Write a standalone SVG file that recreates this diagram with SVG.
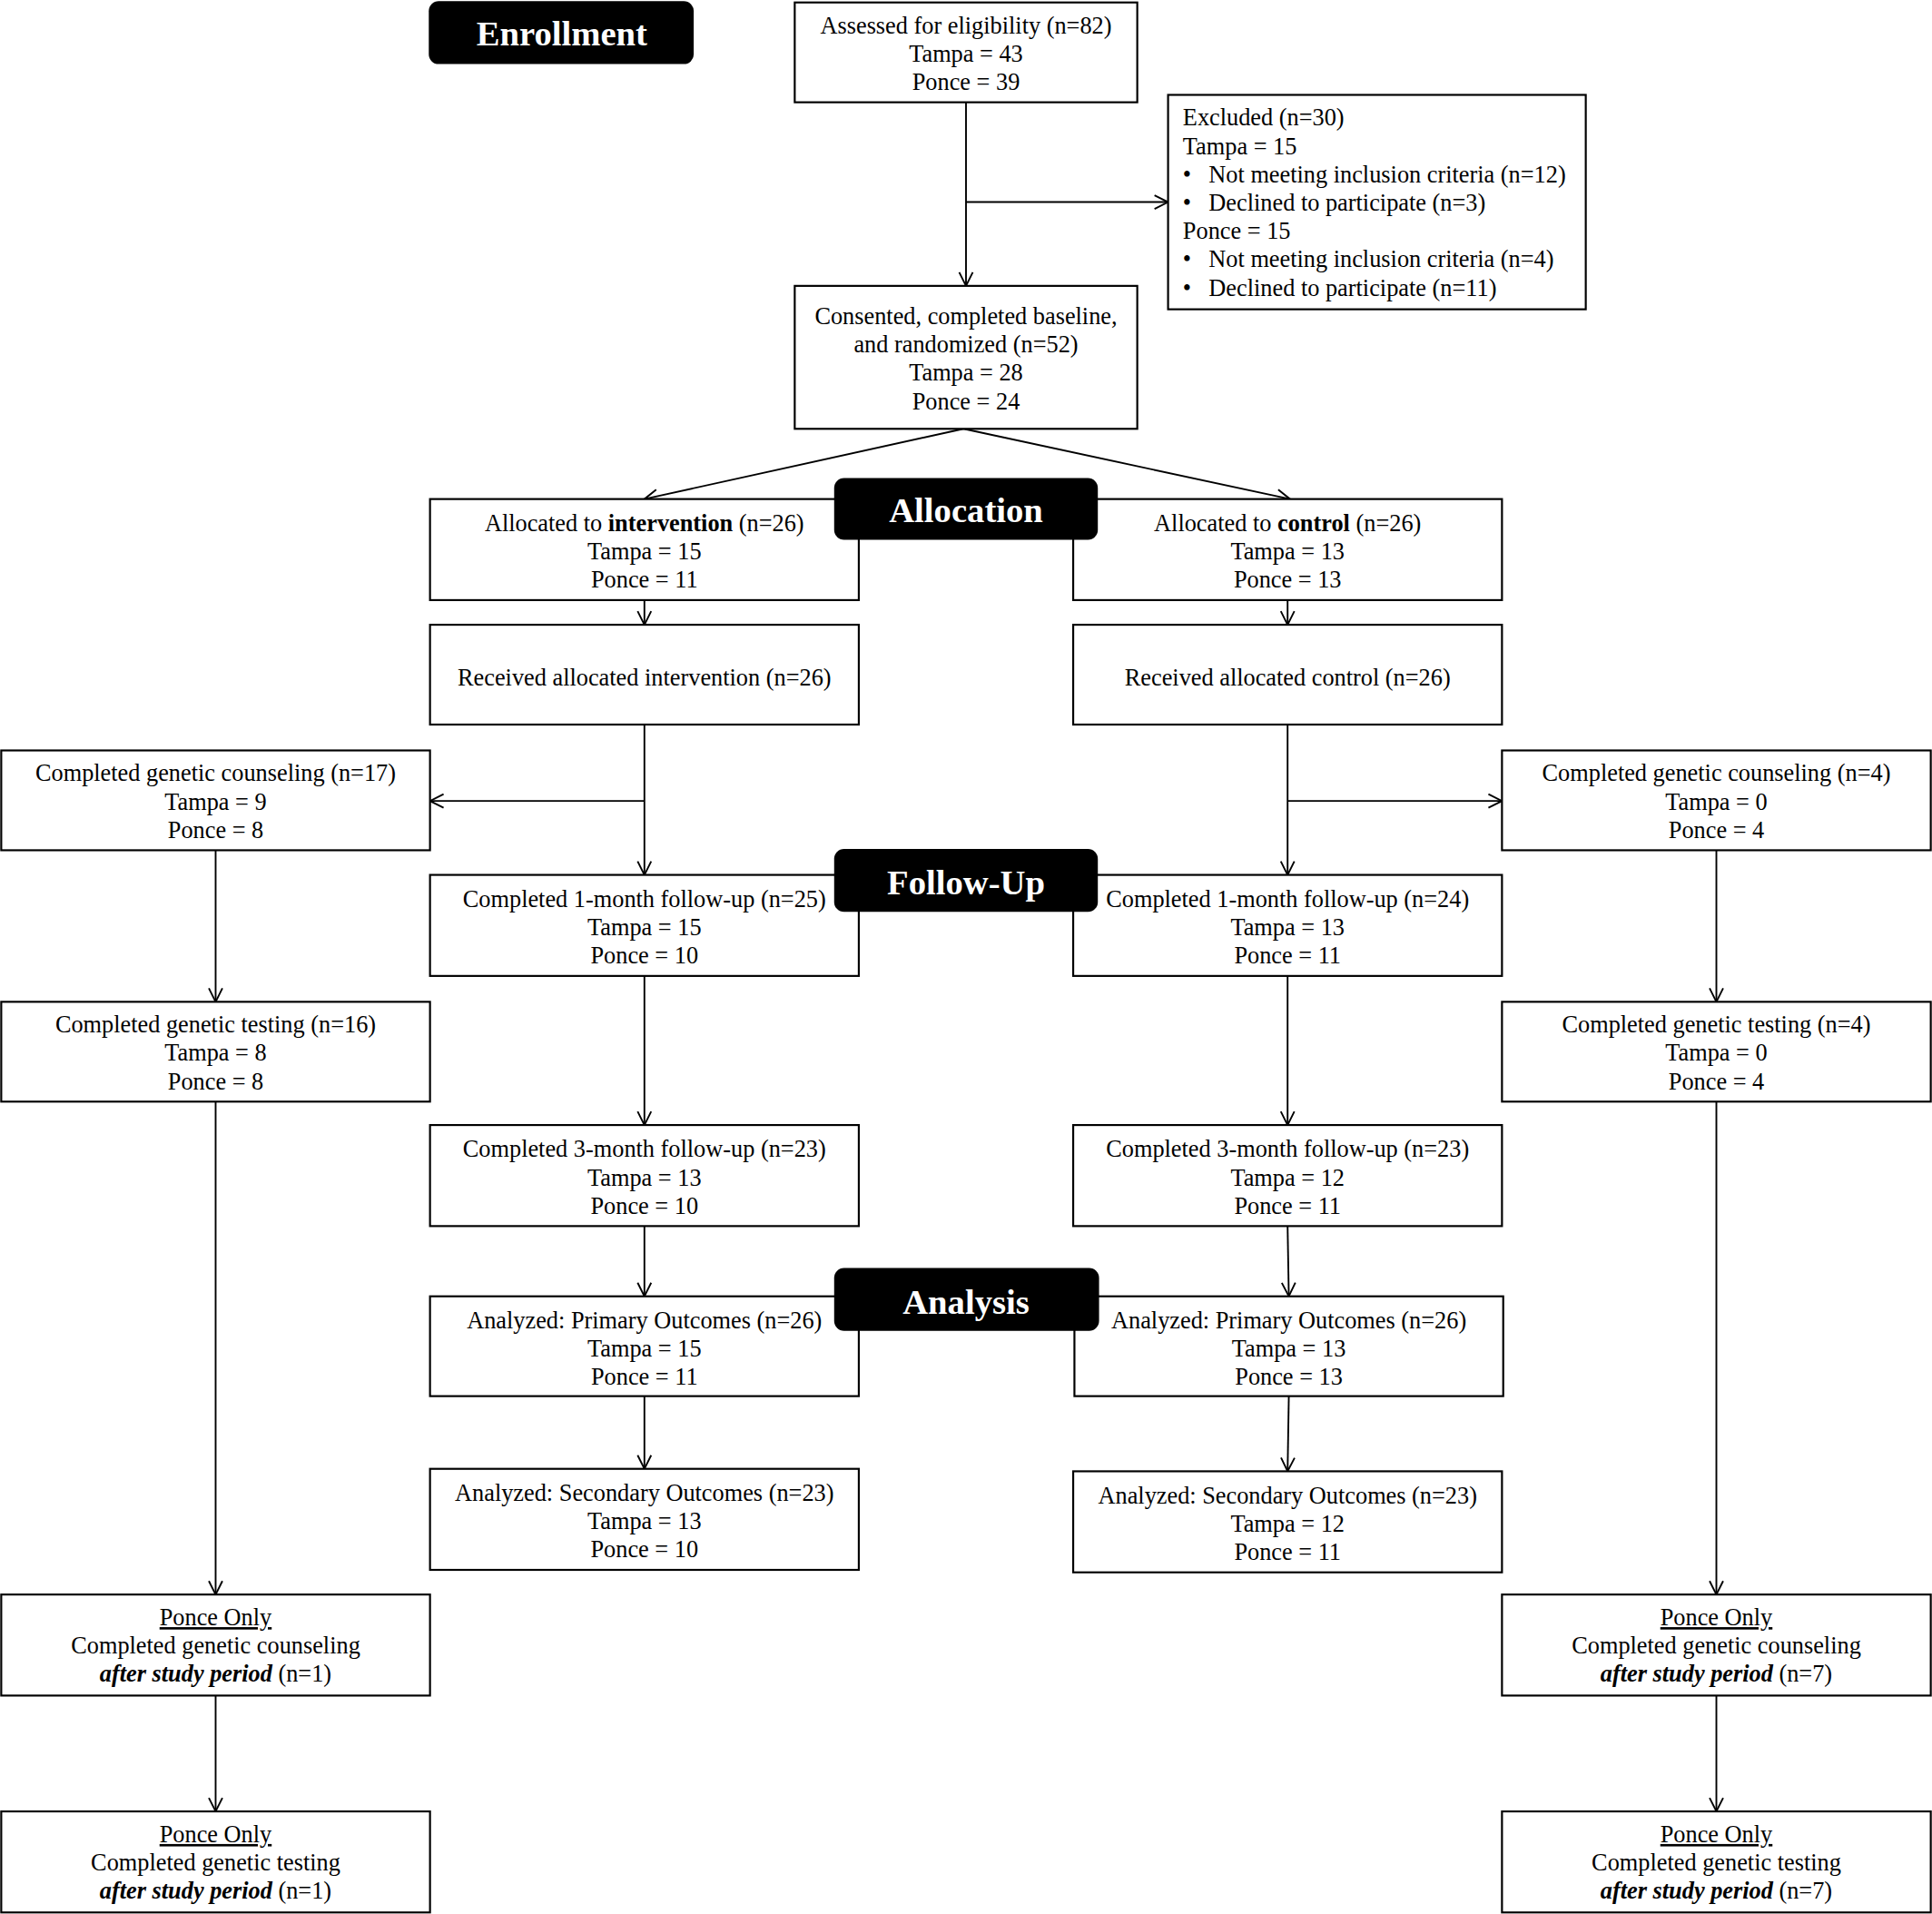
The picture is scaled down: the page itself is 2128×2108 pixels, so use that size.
<svg xmlns="http://www.w3.org/2000/svg" width="2128" height="2108" viewBox="0 0 2128 2108">
<style>
.box{fill:#fff;stroke:#000;stroke-width:1.6}
.lab{fill:#000}
.t{font-family:"Liberation Serif","Times New Roman",serif;font-size:19.4px;fill:#000}
.c{text-anchor:middle}
.lt{font-family:"Liberation Serif","Times New Roman",serif;font-size:28.5px;font-weight:bold;fill:#fff;text-anchor:middle}
.ln{fill:none;stroke:#000;stroke-width:1.4}
.b{font-weight:bold}
.bi{font-weight:bold;font-style:italic}
.u{text-decoration:underline}
</style>
<defs>
<marker id="ah" markerUnits="userSpaceOnUse" markerWidth="14" markerHeight="14" viewBox="0 0 14 14" refX="12" refY="7" orient="auto">
<path d="M1,1.5 L12,7 L1,12.5" fill="none" stroke="#000" stroke-width="1.4"/>
</marker>
</defs>
<rect width="2128" height="2108" fill="#fff"/>
<g transform="scale(1.357143)">
<g id="connectors">
<line class="ln" x1="784" y1="83" x2="784" y2="232" marker-end="url(#ah)"/>
<line class="ln" x1="784" y1="164" x2="948" y2="164" marker-end="url(#ah)"/>
<line class="ln" x1="782" y1="348" x2="523" y2="405" marker-end="url(#ah)"/>
<line class="ln" x1="782" y1="348" x2="1047" y2="405" marker-end="url(#ah)"/>
<line class="ln" x1="523" y1="487" x2="523" y2="507" marker-end="url(#ah)"/>
<line class="ln" x1="1045" y1="487" x2="1045" y2="507" marker-end="url(#ah)"/>
<line class="ln" x1="523" y1="588" x2="523" y2="710" marker-end="url(#ah)"/>
<line class="ln" x1="523" y1="650" x2="349" y2="650" marker-end="url(#ah)"/>
<line class="ln" x1="1045" y1="588" x2="1045" y2="710" marker-end="url(#ah)"/>
<line class="ln" x1="1045" y1="650" x2="1219" y2="650" marker-end="url(#ah)"/>
<line class="ln" x1="523" y1="792" x2="523" y2="913" marker-end="url(#ah)"/>
<line class="ln" x1="1045" y1="792" x2="1045" y2="913" marker-end="url(#ah)"/>
<line class="ln" x1="523" y1="995" x2="523" y2="1052" marker-end="url(#ah)"/>
<line class="ln" x1="1045" y1="995" x2="1046" y2="1052" marker-end="url(#ah)"/>
<line class="ln" x1="523" y1="1133" x2="523" y2="1192" marker-end="url(#ah)"/>
<line class="ln" x1="1046" y1="1133" x2="1045" y2="1194" marker-end="url(#ah)"/>
<line class="ln" x1="175" y1="690" x2="175" y2="813" marker-end="url(#ah)"/>
<line class="ln" x1="175" y1="894" x2="175" y2="1294" marker-end="url(#ah)"/>
<line class="ln" x1="175" y1="1376" x2="175" y2="1470" marker-end="url(#ah)"/>
<line class="ln" x1="1393" y1="690" x2="1393" y2="813" marker-end="url(#ah)"/>
<line class="ln" x1="1393" y1="894" x2="1393" y2="1294" marker-end="url(#ah)"/>
<line class="ln" x1="1393" y1="1376" x2="1393" y2="1470" marker-end="url(#ah)"/>
</g>

<g id="assessed">
<rect class="box" x="645" y="2" width="278" height="81"/>
<text class="t c" x="784" y="27">Assessed for eligibility (n=82)</text>
<text class="t c" x="784" y="50">Tampa = 43</text>
<text class="t c" x="784" y="73">Ponce = 39</text>
</g>
<g id="excluded">
<rect class="box" x="948" y="77" width="339" height="174"/>
<text class="t" x="960" y="102">Excluded (n=30)</text>
<text class="t" x="960" y="125">Tampa = 15</text>
<text class="t" x="960" y="148">•</text><text class="t" x="981" y="148">Not meeting inclusion criteria (n=12)</text>
<text class="t" x="960" y="171">•</text><text class="t" x="981" y="171">Declined to participate (n=3)</text>
<text class="t" x="960" y="194">Ponce = 15</text>
<text class="t" x="960" y="217">•</text><text class="t" x="981" y="217">Not meeting inclusion criteria (n=4)</text>
<text class="t" x="960" y="240">•</text><text class="t" x="981" y="240">Declined to participate (n=11)</text>
</g>
<g id="consented">
<rect class="box" x="645" y="232" width="278" height="116"/>
<text class="t c" x="784" y="263">Consented, completed baseline,</text>
<text class="t c" x="784" y="286">and randomized (n=52)</text>
<text class="t c" x="784" y="309">Tampa = 28</text>
<text class="t c" x="784" y="332">Ponce = 24</text>
</g>

<g id="alloc-int">
<rect class="box" x="349" y="405" width="348" height="82"/>
<text class="t c" x="523" y="431">Allocated to <tspan class="b">intervention</tspan> (n=26)</text>
<text class="t c" x="523" y="454">Tampa = 15</text>
<text class="t c" x="523" y="477">Ponce = 11</text>
</g>
<g id="alloc-ctl">
<rect class="box" x="871" y="405" width="348" height="82"/>
<text class="t c" x="1045" y="431">Allocated to <tspan class="b">control</tspan> (n=26)</text>
<text class="t c" x="1045" y="454">Tampa = 13</text>
<text class="t c" x="1045" y="477">Ponce = 13</text>
</g>
<g id="recv-int">
<rect class="box" x="349" y="507" width="348" height="81"/>
<text class="t c" x="523" y="556">Received allocated intervention (n=26)</text>
</g>
<g id="recv-ctl">
<rect class="box" x="871" y="507" width="348" height="81"/>
<text class="t c" x="1045" y="556">Received allocated control (n=26)</text>
</g>
<g id="gc-int">
<rect class="box" x="1" y="609" width="348" height="81"/>
<text class="t c" x="175" y="634">Completed genetic counseling (n=17)</text>
<text class="t c" x="175" y="657">Tampa = 9</text>
<text class="t c" x="175" y="680">Ponce = 8</text>
</g>
<g id="gc-ctl">
<rect class="box" x="1219" y="609" width="348" height="81"/>
<text class="t c" x="1393" y="634">Completed genetic counseling (n=4)</text>
<text class="t c" x="1393" y="657">Tampa = 0</text>
<text class="t c" x="1393" y="680">Ponce = 4</text>
</g>
<g id="fu1-int">
<rect class="box" x="349" y="710" width="348" height="82"/>
<text class="t c" x="523" y="736">Completed 1-month follow-up (n=25)</text>
<text class="t c" x="523" y="759">Tampa = 15</text>
<text class="t c" x="523" y="782">Ponce = 10</text>
</g>
<g id="fu1-ctl">
<rect class="box" x="871" y="710" width="348" height="82"/>
<text class="t c" x="1045" y="736">Completed 1-month follow-up (n=24)</text>
<text class="t c" x="1045" y="759">Tampa = 13</text>
<text class="t c" x="1045" y="782">Ponce = 11</text>
</g>
<g id="gt-int">
<rect class="box" x="1" y="813" width="348" height="81"/>
<text class="t c" x="175" y="838">Completed genetic testing (n=16)</text>
<text class="t c" x="175" y="861">Tampa = 8</text>
<text class="t c" x="175" y="884">Ponce = 8</text>
</g>
<g id="gt-ctl">
<rect class="box" x="1219" y="813" width="348" height="81"/>
<text class="t c" x="1393" y="838">Completed genetic testing (n=4)</text>
<text class="t c" x="1393" y="861">Tampa = 0</text>
<text class="t c" x="1393" y="884">Ponce = 4</text>
</g>
<g id="fu3-int">
<rect class="box" x="349" y="913" width="348" height="82"/>
<text class="t c" x="523" y="939">Completed 3-month follow-up (n=23)</text>
<text class="t c" x="523" y="962">Tampa = 13</text>
<text class="t c" x="523" y="985">Ponce = 10</text>
</g>
<g id="fu3-ctl">
<rect class="box" x="871" y="913" width="348" height="82"/>
<text class="t c" x="1045" y="939">Completed 3-month follow-up (n=23)</text>
<text class="t c" x="1045" y="962">Tampa = 12</text>
<text class="t c" x="1045" y="985">Ponce = 11</text>
</g>
<g id="prim-int">
<rect class="box" x="349" y="1052" width="348" height="81"/>
<text class="t c" x="523" y="1078">Analyzed: Primary Outcomes (n=26)</text>
<text class="t c" x="523" y="1101">Tampa = 15</text>
<text class="t c" x="523" y="1124">Ponce = 11</text>
</g>
<g id="prim-ctl">
<rect class="box" x="872" y="1052" width="348" height="81"/>
<text class="t c" x="1046" y="1078">Analyzed: Primary Outcomes (n=26)</text>
<text class="t c" x="1046" y="1101">Tampa = 13</text>
<text class="t c" x="1046" y="1124">Ponce = 13</text>
</g>
<g id="sec-int">
<rect class="box" x="349" y="1192" width="348" height="82"/>
<text class="t c" x="523" y="1218">Analyzed: Secondary Outcomes (n=23)</text>
<text class="t c" x="523" y="1241">Tampa = 13</text>
<text class="t c" x="523" y="1264">Ponce = 10</text>
</g>
<g id="sec-ctl">
<rect class="box" x="871" y="1194" width="348" height="82"/>
<text class="t c" x="1045" y="1220">Analyzed: Secondary Outcomes (n=23)</text>
<text class="t c" x="1045" y="1243">Tampa = 12</text>
<text class="t c" x="1045" y="1266">Ponce = 11</text>
</g>
<g id="po-gc-int">
<rect class="box" x="1" y="1294" width="348" height="82"/>
<text class="t c u" x="175" y="1319">Ponce Only</text>
<text class="t c" x="175" y="1342">Completed genetic counseling</text>
<text class="t c" x="175" y="1365"><tspan class="bi">after study period</tspan> (n=1)</text>
</g>
<g id="po-gc-ctl">
<rect class="box" x="1219" y="1294" width="348" height="82"/>
<text class="t c u" x="1393" y="1319">Ponce Only</text>
<text class="t c" x="1393" y="1342">Completed genetic counseling</text>
<text class="t c" x="1393" y="1365"><tspan class="bi">after study period</tspan> (n=7)</text>
</g>
<g id="po-gt-int">
<rect class="box" x="1" y="1470" width="348" height="82"/>
<text class="t c u" x="175" y="1495">Ponce Only</text>
<text class="t c" x="175" y="1518">Completed genetic testing</text>
<text class="t c" x="175" y="1541"><tspan class="bi">after study period</tspan> (n=1)</text>
</g>
<g id="po-gt-ctl">
<rect class="box" x="1219" y="1470" width="348" height="82"/>
<text class="t c u" x="1393" y="1495">Ponce Only</text>
<text class="t c" x="1393" y="1518">Completed genetic testing</text>
<text class="t c" x="1393" y="1541"><tspan class="bi">after study period</tspan> (n=7)</text>
</g>

<g id="label-enrollment">
<rect class="lab" x="348" y="1" width="215" height="51" rx="8"/>
<text class="lt" x="456" y="37">Enrollment</text>
</g>
<g id="label-allocation">
<rect class="lab" x="677" y="388" width="214" height="50" rx="8"/>
<text class="lt" x="784" y="424">Allocation</text>
</g>
<g id="label-followup">
<rect class="lab" x="677" y="689" width="214" height="51" rx="8"/>
<text class="lt" x="784" y="726">Follow-Up</text>
</g>
<g id="label-analysis">
<rect class="lab" x="677" y="1029" width="215" height="51" rx="8"/>
<text class="lt" x="784" y="1066">Analysis</text>
</g>
</g>
</svg>
